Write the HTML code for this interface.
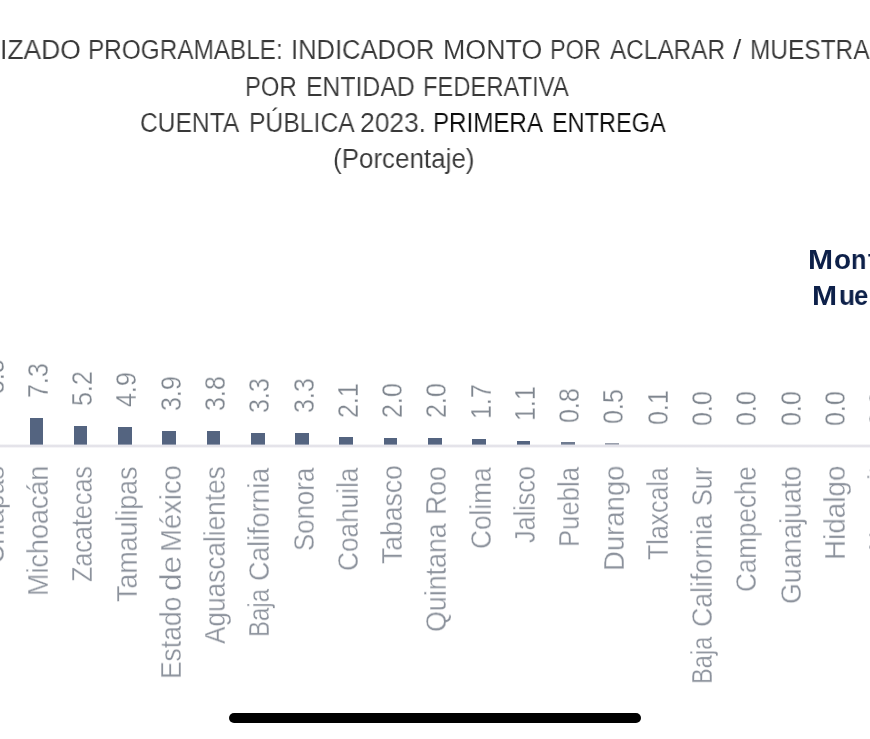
<!DOCTYPE html>
<html><head><meta charset="utf-8"><title>chart</title>
<style>
html,body{margin:0;padding:0;background:#fff;overflow:hidden;}
body{width:870px;height:739px;}
#pg{width:870px;height:739px;position:relative;overflow:hidden;background:#fff;font-family:"Liberation Sans",sans-serif;}
.w,.r{will-change:transform;position:absolute;white-space:nowrap;line-height:30px;height:30px;transform-origin:0 0;-webkit-text-stroke:0.3px #fff;paint-order:fill stroke;}
.lg{-webkit-text-stroke:0 transparent;}
.tt{-webkit-text-stroke:0.12px #fff;}
.axis{position:absolute;left:0;top:443.6px;width:870px;height:4px;background:linear-gradient(to bottom,rgba(227,226,233,0) 0%,#e6e5eb 30%,#e2e1e8 50%,#e6e5eb 70%,rgba(227,226,233,0) 100%);}
.bar{position:absolute;width:13.7px;background:#546480;}
.home{position:absolute;left:229.2px;top:713px;width:411.8px;height:9.8px;border-radius:5px;background:#000;}
</style></head><body><div id="pg">
<div class="w tt" style="left:0.03px;top:35.00px;font-size:26.8px;color:#383838;transform:scaleX(0.9869);">IZADO</div>
<div class="w tt" style="left:88.18px;top:35.00px;font-size:26.8px;color:#383838;transform:scaleX(0.9082);">PROGRAMABLE:</div>
<div class="w tt" style="left:291.29px;top:35.00px;font-size:26.8px;color:#383838;transform:scaleX(0.9533);">INDICADOR</div>
<div class="w tt" style="left:442.60px;top:35.00px;font-size:26.8px;color:#383838;transform:scaleX(0.9989);">MONTO</div>
<div class="w tt" style="left:549.84px;top:35.00px;font-size:26.8px;color:#383838;transform:scaleX(0.8777);">POR</div>
<div class="w tt" style="left:610.00px;top:35.00px;font-size:26.8px;color:#383838;transform:scaleX(0.9087);">ACLARAR</div>
<div class="w tt" style="left:732.70px;top:35.00px;font-size:26.8px;color:#383838;transform:scaleX(1.1250);">/</div>
<div class="w tt" style="left:749.88px;top:35.00px;font-size:26.8px;color:#383838;transform:scaleX(0.9122);">MUESTRA</div>
<div class="w tt" style="left:244.52px;top:72.00px;font-size:26.8px;color:#383838;transform:scaleX(0.8902);">POR</div>
<div class="w tt" style="left:305.85px;top:72.00px;font-size:26.8px;color:#383838;transform:scaleX(0.9248);">ENTIDAD</div>
<div class="w tt" style="left:423.43px;top:72.00px;font-size:26.8px;color:#383838;transform:scaleX(0.8867);">FEDERATIVA</div>
<div class="w tt" style="left:140.38px;top:108.00px;font-size:26.8px;color:#383838;transform:scaleX(0.9179);">CUENTA</div>
<div class="w tt" style="left:249.16px;top:108.00px;font-size:26.8px;color:#383838;transform:scaleX(0.9220);">PÚBLICA</div>
<div class="w tt" style="left:360.31px;top:108.00px;font-size:26.8px;color:#383838;transform:scaleX(0.9857);">2023.</div>
<div class="w tt" style="left:433.00px;top:108.00px;font-size:26.8px;color:#0c0c0c;transform:scaleX(0.9009);">PRIMERA</div>
<div class="w tt" style="left:552.25px;top:108.00px;font-size:26.8px;color:#0c0c0c;transform:scaleX(0.8773);">ENTREGA</div>
<div class="w tt" style="left:332.83px;top:144.00px;font-size:26.8px;color:#383838;transform:scaleX(0.9692);">(Porcentaje)</div>
<div class="w lg" style="left:808.10px;top:245.00px;font-size:27.5px;font-weight:bold;color:#0d2049;transform:scaleX(1.0952);">M</div>
<div class="w lg" style="left:833.79px;top:245.00px;font-size:27.5px;font-weight:bold;color:#0d2049;transform:scaleX(1.0133);">o</div>
<div class="w lg" style="left:851.19px;top:245.00px;font-size:27.5px;font-weight:bold;color:#0d2049;transform:scaleX(0.9133);">n</div>
<div class="w lg" style="left:868.20px;top:245.00px;font-size:27.5px;font-weight:bold;color:#0d2049;transform:scaleX(0.9778);">t</div>
<div class="w lg" style="left:812.10px;top:281.00px;font-size:27.5px;font-weight:bold;color:#0d2049;transform:scaleX(1.0952);">M</div>
<div class="w lg" style="left:838.84px;top:281.00px;font-size:27.5px;font-weight:bold;color:#0d2049;transform:scaleX(0.9571);">u</div>
<div class="w lg" style="left:854.47px;top:281.00px;font-size:27.5px;font-weight:bold;color:#0d2049;transform:scaleX(0.9286);">e</div>
<div class="w lg" style="left:870.60px;top:281.00px;font-size:27.5px;font-weight:bold;color:#0d2049;transform:scaleX(0.7600);">s</div>
<div class="bar" style="left:-14.78px;top:413.27px;height:31.93px;background:#546480;"></div>
<div class="r" style="left:-21.43px;top:393.59px;font-size:29.3px;color:#7f868f;transform:rotate(-90deg) scaleX(0.8546);">8.5</div>
<div class="r" style="left:-21.33px;top:564.13px;font-size:29.0px;color:#8c929c;transform:rotate(-90deg) scaleX(0.9200);">Chiapas</div>
<div class="bar" style="left:29.50px;top:417.78px;height:27.42px;background:#546480;"></div>
<div class="r" style="left:22.85px;top:398.11px;font-size:29.3px;color:#7f868f;transform:rotate(-90deg) scaleX(0.8546);">7.3</div>
<div class="r" style="left:22.95px;top:596.06px;font-size:29.0px;color:#8c929c;transform:rotate(-90deg) scaleX(0.9299);">Michoacán</div>
<div class="bar" style="left:73.78px;top:425.68px;height:19.52px;background:#546480;"></div>
<div class="r" style="left:67.13px;top:406.00px;font-size:29.3px;color:#7f868f;transform:rotate(-90deg) scaleX(0.8546);">5.2</div>
<div class="r" style="left:67.23px;top:582.20px;font-size:29.0px;color:#8c929c;transform:rotate(-90deg) scaleX(0.8666);">Zacatecas</div>
<div class="bar" style="left:118.06px;top:426.81px;height:18.39px;background:#546480;"></div>
<div class="r" style="left:111.41px;top:407.13px;font-size:29.3px;color:#7f868f;transform:rotate(-90deg) scaleX(0.8546);">4.9</div>
<div class="r" style="left:111.51px;top:601.70px;font-size:29.0px;color:#8c929c;transform:rotate(-90deg) scaleX(0.9235);">Tamaulipas</div>
<div class="bar" style="left:162.34px;top:430.57px;height:14.63px;background:#546480;"></div>
<div class="r" style="left:155.69px;top:410.89px;font-size:29.3px;color:#7f868f;transform:rotate(-90deg) scaleX(0.8546);">3.9</div>
<div class="r" style="left:155.79px;top:552.29px;font-size:29.0px;color:#8c929c;transform:rotate(-90deg) scaleX(0.9456);">México</div>
<div class="r" style="left:155.79px;top:591.09px;font-size:29.0px;color:#8c929c;transform:rotate(-90deg) scaleX(1.0920);">de</div>
<div class="r" style="left:155.79px;top:679.22px;font-size:29.0px;color:#8c929c;transform:rotate(-90deg) scaleX(0.9110);">Estado</div>
<div class="bar" style="left:206.62px;top:430.94px;height:14.26px;background:#546480;"></div>
<div class="r" style="left:199.97px;top:411.27px;font-size:29.3px;color:#7f868f;transform:rotate(-90deg) scaleX(0.8546);">3.8</div>
<div class="r" style="left:200.07px;top:644.00px;font-size:29.0px;color:#8c929c;transform:rotate(-90deg) scaleX(0.9037);">Aguascalientes</div>
<div class="bar" style="left:250.90px;top:432.82px;height:12.38px;background:#546480;"></div>
<div class="r" style="left:244.25px;top:413.15px;font-size:29.3px;color:#7f868f;transform:rotate(-90deg) scaleX(0.8546);">3.3</div>
<div class="r" style="left:244.35px;top:580.72px;font-size:29.0px;color:#8c929c;transform:rotate(-90deg) scaleX(0.9242);">California</div>
<div class="r" style="left:244.35px;top:636.86px;font-size:29.0px;color:#8c929c;transform:rotate(-90deg) scaleX(0.8276);">Baja</div>
<div class="bar" style="left:295.18px;top:432.82px;height:12.38px;background:#546480;"></div>
<div class="r" style="left:288.53px;top:413.15px;font-size:29.3px;color:#7f868f;transform:rotate(-90deg) scaleX(0.8546);">3.3</div>
<div class="r" style="left:288.63px;top:550.69px;font-size:29.0px;color:#8c929c;transform:rotate(-90deg) scaleX(0.8899);">Sonora</div>
<div class="bar" style="left:339.46px;top:437.33px;height:7.87px;background:#546480;"></div>
<div class="r" style="left:332.81px;top:417.66px;font-size:29.3px;color:#7f868f;transform:rotate(-90deg) scaleX(0.8546);">2.1</div>
<div class="r" style="left:332.91px;top:570.90px;font-size:29.0px;color:#8c929c;transform:rotate(-90deg) scaleX(0.9034);">Coahuila</div>
<div class="bar" style="left:383.74px;top:437.71px;height:7.49px;background:#546480;"></div>
<div class="r" style="left:377.09px;top:418.03px;font-size:29.3px;color:#7f868f;transform:rotate(-90deg) scaleX(0.8546);">2.0</div>
<div class="r" style="left:377.19px;top:564.40px;font-size:29.0px;color:#8c929c;transform:rotate(-90deg) scaleX(0.9141);">Tabasco</div>
<div class="bar" style="left:428.02px;top:437.71px;height:7.49px;background:#546480;"></div>
<div class="r" style="left:421.37px;top:418.03px;font-size:29.3px;color:#7f868f;transform:rotate(-90deg) scaleX(0.8546);">2.0</div>
<div class="r" style="left:421.47px;top:514.84px;font-size:29.0px;color:#8c929c;transform:rotate(-90deg) scaleX(0.9187);">Roo</div>
<div class="r" style="left:421.47px;top:632.02px;font-size:29.0px;color:#8c929c;transform:rotate(-90deg) scaleX(0.9237);">Quintana</div>
<div class="bar" style="left:472.30px;top:438.84px;height:6.36px;background:#546480;"></div>
<div class="r" style="left:465.65px;top:419.16px;font-size:29.3px;color:#7f868f;transform:rotate(-90deg) scaleX(0.8546);">1.7</div>
<div class="r" style="left:465.75px;top:549.10px;font-size:29.0px;color:#8c929c;transform:rotate(-90deg) scaleX(0.9044);">Colima</div>
<div class="bar" style="left:516.58px;top:441.09px;height:4.11px;background:#546480;"></div>
<div class="r" style="left:509.93px;top:421.42px;font-size:29.3px;color:#7f868f;transform:rotate(-90deg) scaleX(0.8546);">1.1</div>
<div class="r" style="left:510.03px;top:542.60px;font-size:29.0px;color:#8c929c;transform:rotate(-90deg) scaleX(0.8673);">Jalisco</div>
<div class="bar" style="left:560.86px;top:442.22px;height:2.98px;background:#6f7b90;"></div>
<div class="r" style="left:554.21px;top:422.55px;font-size:29.3px;color:#7f868f;transform:rotate(-90deg) scaleX(0.8546);">0.8</div>
<div class="r" style="left:554.31px;top:547.37px;font-size:29.0px;color:#8c929c;transform:rotate(-90deg) scaleX(0.8848);">Puebla</div>
<div class="bar" style="left:605.14px;top:443.35px;height:1.85px;background:#9aa0ad;"></div>
<div class="r" style="left:598.49px;top:423.67px;font-size:29.3px;color:#7f868f;transform:rotate(-90deg) scaleX(0.8546);">0.5</div>
<div class="r" style="left:598.59px;top:571.20px;font-size:29.0px;color:#8c929c;transform:rotate(-90deg) scaleX(0.9490);">Durango</div>
<div class="r" style="left:642.77px;top:425.18px;font-size:29.3px;color:#7f868f;transform:rotate(-90deg) scaleX(0.8546);">0.1</div>
<div class="r" style="left:642.87px;top:560.20px;font-size:29.0px;color:#8c929c;transform:rotate(-90deg) scaleX(0.8589);">Tlaxcala</div>
<div class="r" style="left:687.05px;top:425.55px;font-size:29.3px;color:#7f868f;transform:rotate(-90deg) scaleX(0.8546);">0.0</div>
<div class="r" style="left:687.15px;top:505.67px;font-size:29.0px;color:#8c929c;transform:rotate(-90deg) scaleX(0.8680);">Sur</div>
<div class="r" style="left:687.15px;top:626.72px;font-size:29.0px;color:#8c929c;transform:rotate(-90deg) scaleX(0.9202);">California</div>
<div class="r" style="left:687.15px;top:683.83px;font-size:29.0px;color:#8c929c;transform:rotate(-90deg) scaleX(0.8135);">Baja</div>
<div class="r" style="left:731.33px;top:425.55px;font-size:29.3px;color:#7f868f;transform:rotate(-90deg) scaleX(0.8546);">0.0</div>
<div class="r" style="left:731.43px;top:591.50px;font-size:29.0px;color:#8c929c;transform:rotate(-90deg) scaleX(0.8971);">Campeche</div>
<div class="r" style="left:775.61px;top:425.55px;font-size:29.3px;color:#7f868f;transform:rotate(-90deg) scaleX(0.8546);">0.0</div>
<div class="r" style="left:775.71px;top:603.72px;font-size:29.0px;color:#8c929c;transform:rotate(-90deg) scaleX(0.9207);">Guanajuato</div>
<div class="r" style="left:819.89px;top:425.55px;font-size:29.3px;color:#7f868f;transform:rotate(-90deg) scaleX(0.8546);">0.0</div>
<div class="r" style="left:819.99px;top:560.02px;font-size:29.0px;color:#8c929c;transform:rotate(-90deg) scaleX(0.9599);">Hidalgo</div>
<div class="r" style="left:864.17px;top:425.55px;font-size:29.3px;color:#7f868f;transform:rotate(-90deg) scaleX(0.8546);">0.0</div>
<div class="r" style="left:864.27px;top:551.16px;font-size:29.0px;color:#8c929c;transform:rotate(-90deg) scaleX(0.9200);">Nayarit</div>
<div class="axis"></div>
<div class="home"></div>
</div></body></html>
